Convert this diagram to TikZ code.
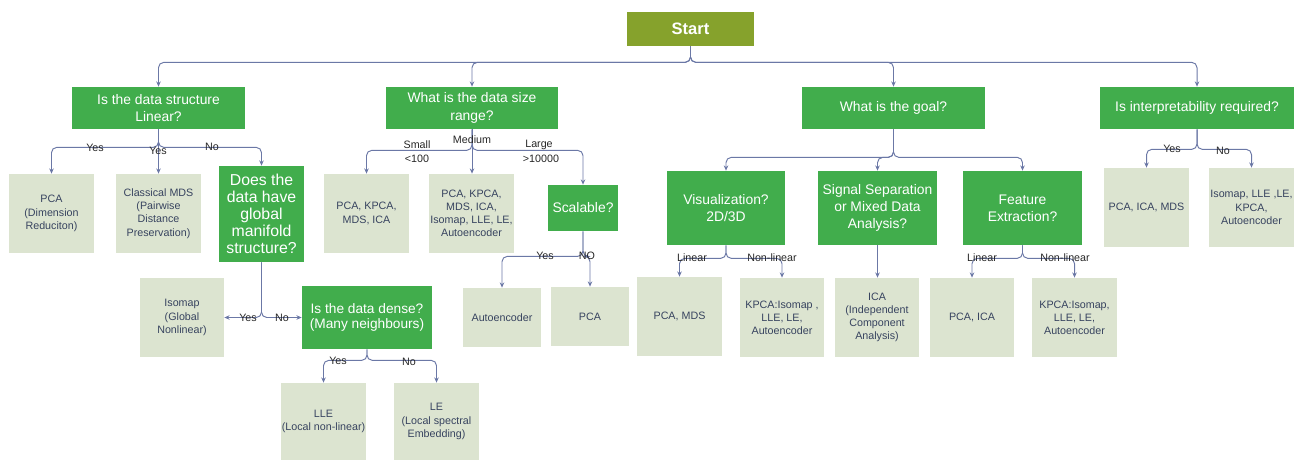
\documentclass[tikz,border=0pt]{standalone}
\usepackage{fontspec}
\setmainfont{Liberation Sans}
\usetikzlibrary{arrows.meta}
\definecolor{qgreen}{HTML}{41AD4C}
\definecolor{leaf}{HTML}{DCE4D0}
\definecolor{leaftext}{HTML}{37435F}
\definecolor{conncol}{HTML}{6B78A6}
\definecolor{olive}{HTML}{86A22C}
\begin{document}
\begin{tikzpicture}[x=0.02cm,y=-0.02cm,
 sz/.style 2 args={minimum width=#1*0.02cm, minimum height=#2*0.02cm},
 q/.style={fill=qgreen, text=white, inner sep=0pt, align=center, font=\fontsize{7.9}{9.8}\selectfont},
 lf/.style={fill=leaf, text=leaftext, inner sep=0pt, align=center, font=\fontsize{6.1}{7.5}\selectfont},
 ln/.style={draw=conncol, line width=0.55pt, rounded corners=3pt, -{Stealth[length=3pt,width=2.6pt]}},
 lab/.style={font=\fontsize{6.1}{7}\selectfont, text=black!85, inner sep=0pt},
]
\useasboundingbox (0,0) rectangle (1304,460);
% nodes
\node[fill=olive, text=white, inner sep=0pt, sz={127}{34}, font=\fontsize{9.4}{11}\selectfont\bfseries] (start) at (690.5,29) {Start};
\node[q, sz={173}{42}] (q1) at (158.5,108) {Is the data structure\\Linear?};
\node[q, sz={172}{42}] (q2) at (472,108) {What is the data size\\range?};
\node[q, sz={183}{42}] (q3) at (893.5,108) {What is the goal?};
\node[q, sz={194}{42}] (q4) at (1197,108) {Is interpretability required?};
% Q1 subtree
\node[lf, sz={85}{79}] (pca1) at (51.5,213.5) {PCA\\(Dimension\\Reduciton)};
\node[lf, sz={85}{79}] (mds) at (158.5,213.5) {Classical MDS\\(Pairwise\\Distance\\Preservation)};
\node[q, sz={85}{96}, font=\fontsize{9}{9.6}\selectfont] (glob) at (261.5,214) {Does the\\data have\\global\\manifold\\structure?};
\node[lf, sz={84}{79}] (iso) at (182,317.5) {Isomap\\(Global\\Nonlinear)};
\node[q, sz={130}{63}, font=\fontsize{7.8}{8.7}\selectfont] (dense) at (367,317.5) {Is the data dense?\\(Many neighbours)};
\node[lf, sz={85}{77}] (lle) at (323.5,421.5) {LLE\\(Local non-linear)};
\node[lf, sz={85}{77}] (le) at (436.5,421.5) {LE\\(Local spectral\\Embedding)};
% Q2 subtree
\node[lf, sz={85}{79}] (small) at (366.5,213.5) {PCA, KPCA,\\MDS, ICA};
\node[lf, sz={85}{79}] (med) at (471.5,213.5) {PCA, KPCA,\\MDS, ICA,\\Isomap, LLE, LE,\\Autoencoder};
\node[q, sz={70}{46}] (scal) at (583,208) {Scalable?};
\node[lf, sz={78}{59}] (auto) at (502,317.5) {Autoencoder};
\node[lf, sz={78}{59}] (pca2) at (590,316.5) {PCA};
% Q3 subtree
\node[q, sz={118}{74}] (vis) at (726,208) {Visualization?\\2D/3D};
\node[q, sz={119}{74}] (sig) at (877.5,208) {Signal Separation\\or Mixed Data\\Analysis?};
\node[q, sz={119}{74}] (feat) at (1022.5,208) {Feature\\Extraction?};
\node[lf, sz={85}{79}] (pcamds) at (679.5,316.5) {PCA, MDS};
\node[lf, sz={84}{79}] (kpca1) at (782,317.5) {KPCA:Isomap ,\\LLE, LE,\\Autoencoder};
\node[lf, sz={84}{79}] (ica) at (877,317.5) {ICA\\(Independent\\Component\\Analysis)};
\node[lf, sz={84}{79}] (pcaica) at (972,317.5) {PCA, ICA};
\node[lf, sz={85}{79}] (kpca2) at (1074.5,317.5) {KPCA:Isomap,\\LLE, LE,\\Autoencoder};
% Q4 subtree
\node[lf, sz={85}{79}] (pim) at (1146.5,207.5) {PCA, ICA, MDS};
\node[lf, sz={85}{79}] (iso2) at (1251.5,207.5) {Isomap, LLE ,LE,\\KPCA,\\Autoencoder};
% connectors
\foreach \t in {q1,q2,q3,q4} \draw[ln] (start.south) -- ++(0,16) -| (\t.north);
\draw[ln] (q1.south) -- ++(0,18) -| (pca1.north);
\draw[ln] (q1.south) -- (mds.north);
\draw[ln] (q1.south) -- ++(0,18) -| (glob.north);
\draw[ln] (glob.south) |- (iso.east);
\draw[ln] (glob.south) |- (dense.west);
\draw[ln] (dense.south) -- ++(0,11) -| (lle.north);
\draw[ln] (dense.south) -- ++(0,11) -| (le.north);
\draw[ln] (q2.south) -- ++(0,21) -| (small.north);
\draw[ln] (q2.south) -- (q2.south |- med.north);
\draw[ln] (q2.south) -- ++(0,21) -| (scal.north);
\draw[ln] (scal.south) -- ++(0,25) -| (auto.north);
\draw[ln] (scal.south) -- ++(0,25) -| (pca2.north);
\draw[ln] (q3.south) -- ++(0,28) -| (vis.north);
\draw[ln] (q3.south) -- ++(0,28) -| (sig.north);
\draw[ln] (q3.south) -- ++(0,28) -| (feat.north);
\draw[ln] (vis.south) -- ++(0,13) -| (pcamds.north);
\draw[ln] (vis.south) -- ++(0,13) -| (kpca1.north);
\draw[ln] (sig.south) -- (sig.south |- ica.north);
\draw[ln] (feat.south) -- ++(0,13) -| (pcaica.north);
\draw[ln] (feat.south) -- ++(0,13) -| (kpca2.north);
\draw[ln] (q4.south) -- ++(0,20) -| (pim.north);
\draw[ln] (q4.south) -- ++(0,20) -| (iso2.north);
% labels
\node[lab] (l1) at (95,148) {Yes};
\node[lab] (l2) at (158,151) {Yes};
\node[lab] (l3) at (212,147) {No};
\node[lab] (l4) at (417,145) {Small};
\node[lab] (l5) at (417,159) {<100};
\node[lab] (l6) at (472,140) {Medium};
\node[lab] (l7) at (539,145) {Large};
\node[lab] (l8) at (541,159) {>10000};
\node[lab] (l9) at (248,318) {Yes};
\node[lab] (l10) at (282,318) {No};
\node[lab] (l11) at (338,361) {Yes};
\node[lab] (l12) at (409,362) {No};
\node[lab] (l13) at (545,256) {Yes};
\node[lab] (l14) at (587,256) {NO};
\node[lab] (l15) at (692,258) {Linear};
\node[lab] (l16) at (772,258) {Non-linear};
\node[lab] (l17) at (982,258) {Linear};
\node[lab] (l18) at (1065,258) {Non-linear};
\node[lab] (l19) at (1172,149) {Yes};
\node[lab] (l20) at (1223,151) {No};
\end{tikzpicture}
\end{document}
